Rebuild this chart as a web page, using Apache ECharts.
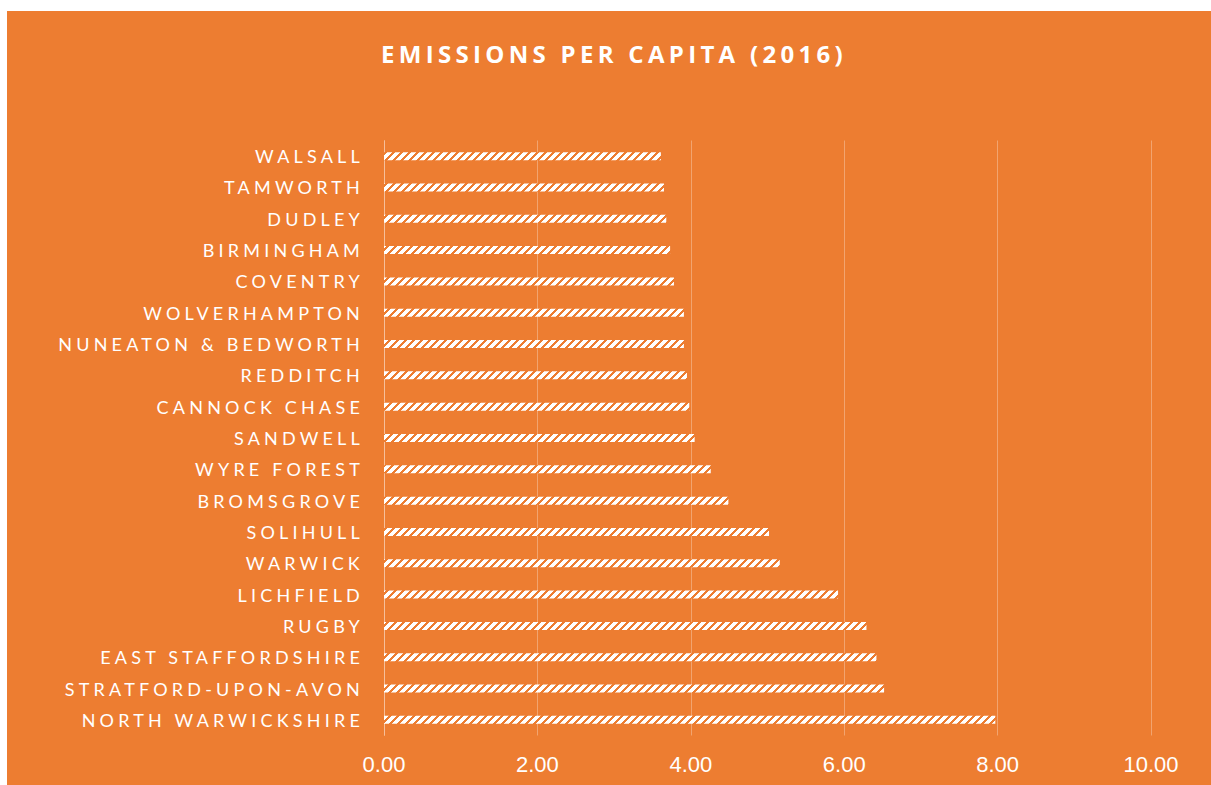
<!DOCTYPE html>
<html>
<head>
<meta charset="utf-8">
<script src="https://cdn.jsdelivr.net/npm/echarts@6/dist/echarts.min.js"></script>
<style>
  html, body { margin: 0; padding: 0; background: #ffffff; }
  #chart { width: 1211px; height: 785px; }
  #chart text[style*="Lato"] { letter-spacing: 4.2px; }
  #chart text[style*="Open Sans"] { letter-spacing: 4.3px; }
</style>
</head>
<body>
<div id="chart"></div>
<script>
const titleText = 'EMISSIONS PER CAPITA (2016)';
const categories = [
  'WALSALL', 'TAMWORTH', 'DUDLEY', 'BIRMINGHAM', 'COVENTRY', 'WOLVERHAMPTON',
  'NUNEATON & BEDWORTH', 'REDDITCH', 'CANNOCK CHASE', 'SANDWELL', 'WYRE FOREST',
  'BROMSGROVE', 'SOLIHULL', 'WARWICK', 'LICHFIELD', 'RUGBY', 'EAST STAFFORDSHIRE',
  'STRATFORD-UPON-AVON', 'NORTH WARWICKSHIRE'
];
const values = [
  3.61, 3.65, 3.68, 3.73, 3.78, 3.91,
  3.91, 3.95, 3.98, 4.05, 4.26,
  4.49, 5.02, 5.16, 5.92, 6.29, 6.42,
  6.52, 7.97
];
const axisMin = 0;
const axisMax = 10;
const axisStep = 2;

const ORANGE = '#ED7D31';
const GRID = 'rgba(255,255,255,0.3)';

// striped "wide upward diagonal" fill
const pc = document.createElement('canvas');
pc.width = 8; pc.height = 8;
const pctx = pc.getContext('2d');
pctx.fillStyle = '#ffffff';
pctx.fillRect(0, 0, 8, 8);
pctx.fillStyle = ORANGE;
for (let y = 0; y < 8; y++) {
  for (let x = 0; x < 8; x++) {
    if ((x + y) % 8 < 3) pctx.fillRect(x, y, 1, 1);
  }
}

const chart = echarts.init(document.getElementById('chart'), null, { renderer: 'svg' });
chart.setOption({
  backgroundColor: ORANGE,
  animation: false,
  graphic: [
    { type: 'rect', shape: { x: 0, y: 0, width: 1211, height: 11 }, style: { fill: '#ffffff' }, silent: true },
    { type: 'rect', shape: { x: 0, y: 0, width: 7, height: 785 }, style: { fill: '#ffffff' }, silent: true }
  ],
  title: {
    text: titleText,
    left: 609,
    top: 36,
    textAlign: 'center',
    textStyle: { color: '#ffffff', fontFamily: 'Open Sans', fontWeight: 'bold', fontSize: 24 }
  },
  grid: { left: 384, right: 60, top: 140.5, bottom: 49.5 },
  xAxis: {
    type: 'value',
    min: axisMin,
    max: axisMax,
    interval: axisStep,
    axisLine: { show: false },
    axisTick: { show: false },
    splitLine: { show: true, lineStyle: { color: GRID, width: 1 } },
    axisLabel: {
      color: '#ffffff',
      fontFamily: 'Liberation Sans',
      fontSize: 22,
      margin: 18,
      formatter: v => v.toFixed(2)
    }
  },
  yAxis: {
    type: 'category',
    inverse: true,
    data: categories,
    axisLine: { show: true, lineStyle: { color: GRID, width: 1 } },
    axisTick: { show: false },
    axisLabel: {
      color: '#ffffff',
      fontFamily: 'Lato',
      fontSize: 18,
      margin: 20
    }
  },
  series: [{
    type: 'bar',
    data: values,
    barWidth: 8,
    itemStyle: { color: { image: pc, repeat: 'repeat' } }
  }]
});
</script>
</body>
</html>
